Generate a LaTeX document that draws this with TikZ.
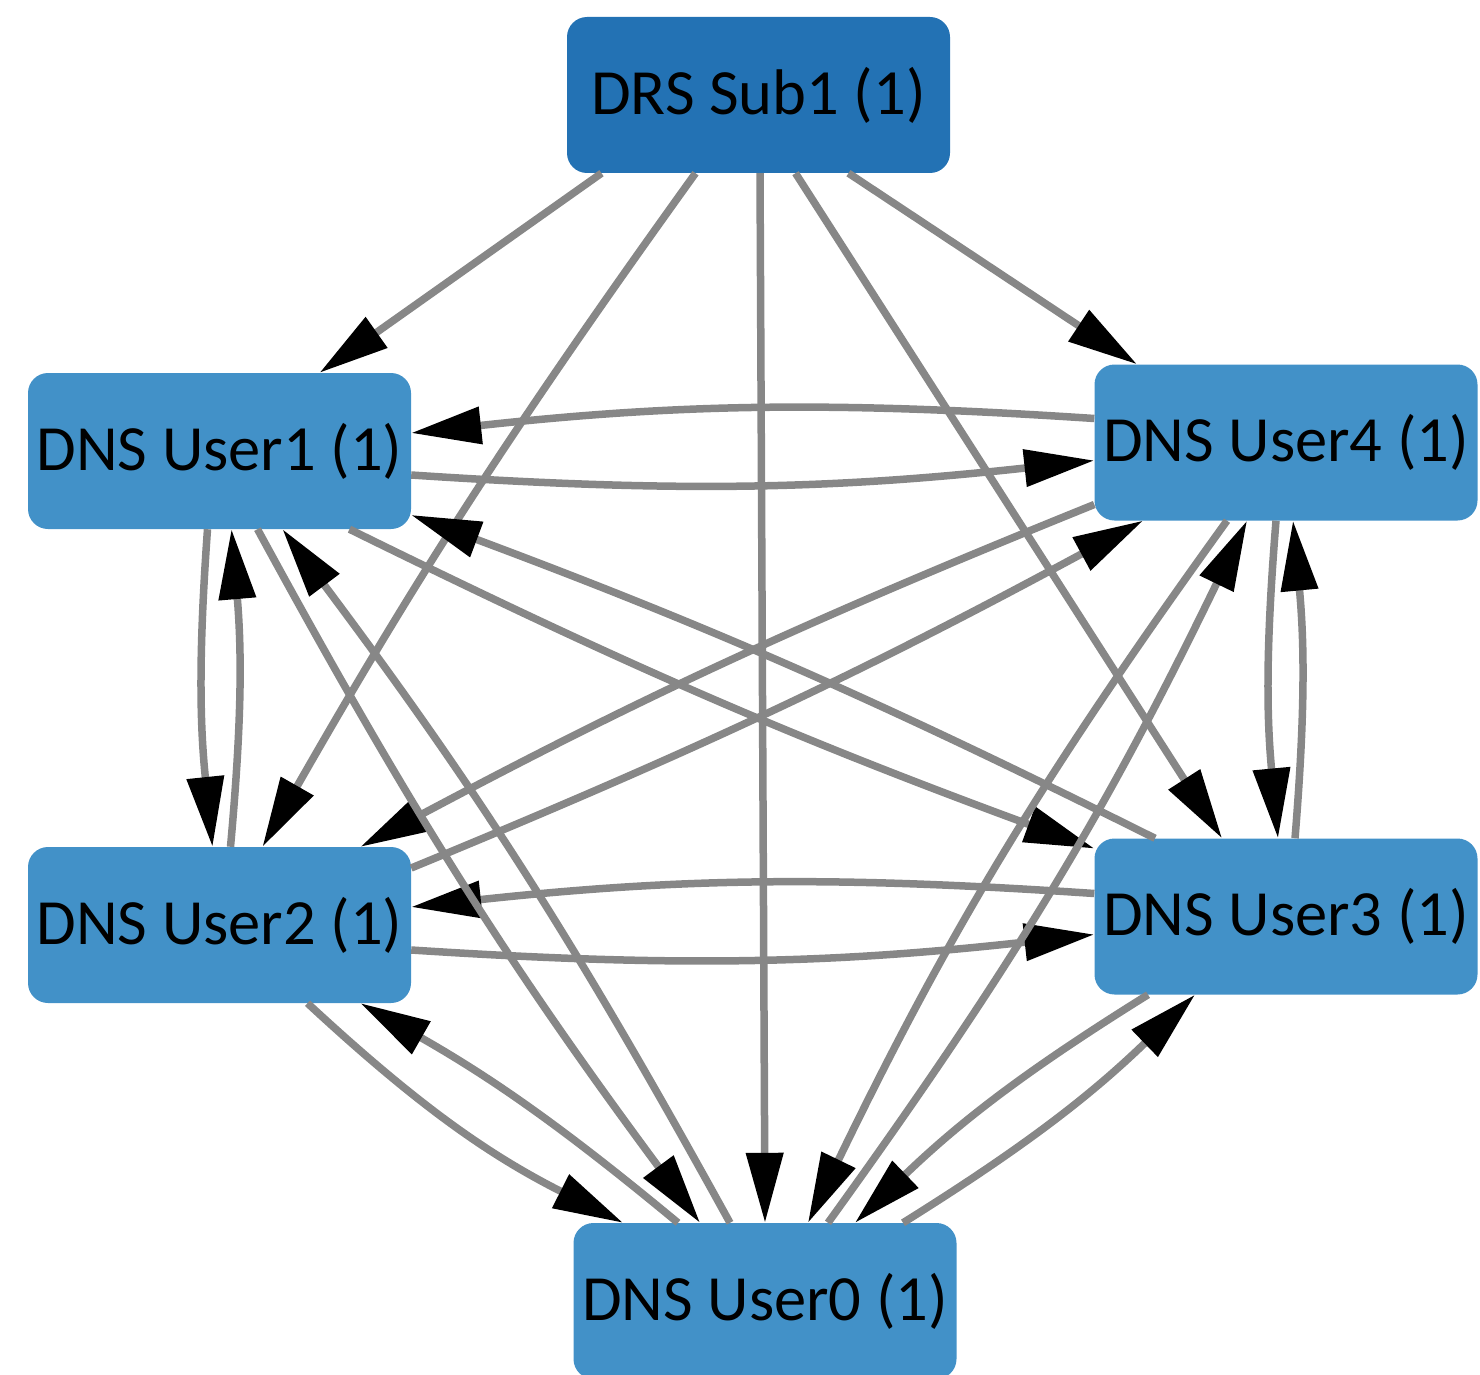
\documentclass[tikz,border=0pt]{standalone}
\usepackage{fontspec}
\setmainfont{Carlito}
\usetikzlibrary{arrows.meta}
\definecolor{subblue}{RGB}{35,114,180}
\definecolor{userblue}{RGB}{66,145,200}
\definecolor{edgegray}{RGB}{135,135,135}
\begin{document}
\begin{tikzpicture}[x=1pt,y=-1pt,
  box/.style={rectangle, rounded corners=20pt, minimum width=383pt,
    minimum height=156pt, inner sep=0pt, text=black,
    font=\fontsize{64.5}{72}\selectfont},
  subbox/.style={box, fill=subblue},
  userbox/.style={box, fill=userblue},
  link/.style={draw=edgegray, line width=7.5pt,
    -{Triangle[length=70pt,width=36pt,color=black]}},
]
\path[use as bounding box] (0,0) rectangle (1480,1375);

% nodes
\node[subbox]  (sub) at (758.5,95)   {DRS Sub1 (1)};
\node[userbox] (u1)  at (219.5,451)  {DNS User1 (1)};
\node[userbox] (u4)  at (1286,442.5) {DNS User4 (1)};
\node[userbox] (u2)  at (219.5,925)  {DNS User2 (1)};
\node[userbox] (u3)  at (1286,916.5) {DNS User3 (1)};
\node[userbox] (u0)  at (765,1301)   {DNS User0 (1)};

% edges leaving the subscriber
\draw[link] ([xshift=-157pt]sub.south) -- ([xshift=100pt]u1.north);
\draw[link] ([xshift=-63pt]sub.south) to[bend right=3] ([xshift=43pt]u2.north);
\draw[link] ([xshift=1.5pt]sub.south) -- (u0.north);
\draw[link] ([xshift=37pt]sub.south) -- ([xshift=-64pt]u3.north);
\draw[link] ([xshift=90pt]sub.south) -- ([xshift=-149pt]u4.north);

% User1 <-> User4
\draw[link] ([yshift=24pt]u4.west) to[bend right=5] ([yshift=18pt]u1.east);
\draw[link] ([yshift=-24pt]u1.east) to[bend right=5] ([yshift=-18pt]u4.west);
% User2 <-> User3
\draw[link] ([yshift=23pt]u3.west) to[bend right=5] ([yshift=18pt]u2.east);
\draw[link] ([yshift=-25pt]u2.east) to[bend right=5] ([yshift=-18pt]u3.west);
% User1 <-> User2
\draw[link] ([xshift=-12pt]u1.south) to[bend right=5] ([xshift=-7pt]u2.north);
\draw[link] ([xshift=11pt]u2.north) to[bend right=5] ([xshift=12pt]u1.south);
% User4 <-> User3
\draw[link] ([xshift=-10pt]u4.south) to[bend right=5] ([xshift=-8pt]u3.north);
\draw[link] ([xshift=9pt]u3.north) to[bend right=5] ([xshift=7pt]u4.south);
% User1 <-> User3
\draw[link] ([xshift=130pt]u1.south) to[bend right=3] ([yshift=68pt]u3.west);
\draw[link] ([xshift=-131pt]u3.north) to[bend right=3] ([yshift=-64pt]u1.east);
% User4 <-> User2
\draw[link] ([yshift=-62pt]u4.west) to[bend right=3] ([xshift=141pt]u2.north);
\draw[link] ([yshift=57pt]u2.east) to[bend right=3] ([xshift=-143pt]u4.south);
% User1 <-> User0
\draw[link] ([xshift=38pt]u1.south) to[bend right=4] ([xshift=-65pt]u0.north);
\draw[link] ([xshift=-35pt]u0.north) to[bend right=4] ([xshift=63pt]u1.south);
% User2 <-> User0
\draw[link] ([xshift=88pt]u2.south) to[bend right=8] ([xshift=-142pt]u0.north);
\draw[link] ([xshift=-87pt]u0.north) to[bend right=5] ([xshift=141pt]u2.south);
% User4 <-> User0
\draw[link] ([xshift=-59pt]u4.south) to[bend right=5] ([xshift=43pt]u0.north);
\draw[link] ([xshift=63pt]u0.north) to[bend right=5] ([xshift=-39pt]u4.south);
% User3 <-> User0
\draw[link] ([xshift=-138pt]u3.south) to[bend right=6] ([xshift=90pt]u0.north);
\draw[link] ([xshift=138pt]u0.north) to[bend right=6] ([xshift=-91pt]u3.south);
\end{tikzpicture}
\end{document}
